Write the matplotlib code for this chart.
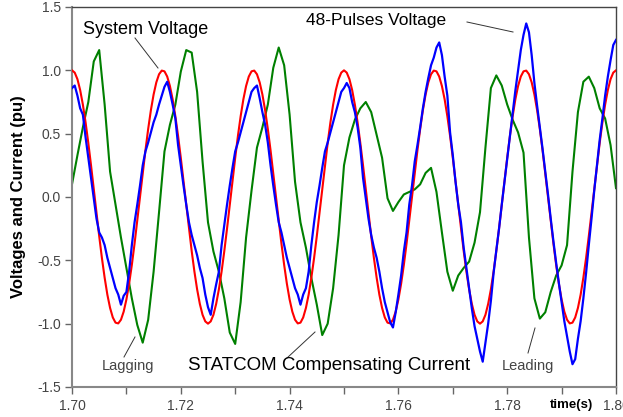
import numpy as np
import matplotlib
matplotlib.use("Agg")
import matplotlib.pyplot as plt

# ---- data ----
t_half = np.round(np.arange(0, 201) * 0.0005 + 1.70, 4)   # 0.5 ms grid
t_ms = np.round(np.arange(0, 101) * 0.001 + 1.70, 3)       # 1 ms grid

system_voltage = [
    1.000, 0.982, 0.930, 0.844, 0.729, 0.588, 0.426, 0.249, 0.063, -0.125,
    -0.309, -0.482, -0.637, -0.771, -0.876, -0.951, -0.992, -0.998, -0.969, -0.905,
    -0.809, -0.685, -0.536, -0.368, -0.187, 0.000, 0.187, 0.368, 0.536, 0.685,
    0.809, 0.905, 0.969, 0.998, 0.992, 0.951, 0.876, 0.771, 0.637, 0.482,
    0.309, 0.125, -0.063, -0.249, -0.426, -0.588, -0.729, -0.844, -0.930, -0.982,
    -1.000, -0.982, -0.930, -0.844, -0.729, -0.588, -0.426, -0.249, -0.063, 0.125,
    0.309, 0.482, 0.637, 0.771, 0.876, 0.951, 0.992, 0.998, 0.969, 0.905,
    0.809, 0.685, 0.536, 0.368, 0.187, 0.000, -0.187, -0.368, -0.536, -0.685,
    -0.809, -0.905, -0.969, -0.998, -0.992, -0.951, -0.876, -0.771, -0.637, -0.482,
    -0.309, -0.125, 0.063, 0.249, 0.426, 0.588, 0.729, 0.844, 0.930, 0.982,
    1.000, 0.982, 0.930, 0.844, 0.729, 0.588, 0.426, 0.249, 0.063, -0.125,
    -0.309, -0.482, -0.637, -0.771, -0.876, -0.951, -0.992, -0.998, -0.969, -0.905,
    -0.809, -0.685, -0.536, -0.368, -0.187, 0.000, 0.187, 0.368, 0.536, 0.685,
    0.809, 0.905, 0.969, 0.998, 0.992, 0.951, 0.876, 0.771, 0.637, 0.482,
    0.309, 0.125, -0.063, -0.249, -0.426, -0.588, -0.729, -0.844, -0.930, -0.982,
    -1.000, -0.982, -0.930, -0.844, -0.729, -0.588, -0.426, -0.249, -0.063, 0.125,
    0.309, 0.482, 0.637, 0.771, 0.876, 0.951, 0.992, 0.998, 0.969, 0.905,
    0.809, 0.685, 0.536, 0.368, 0.187, 0.000, -0.187, -0.368, -0.536, -0.685,
    -0.809, -0.905, -0.969, -0.998, -0.992, -0.951, -0.876, -0.771, -0.637, -0.482,
    -0.309, -0.125, 0.063, 0.249, 0.426, 0.588, 0.729, 0.844, 0.930, 0.982,
    1.000,
]

pulse48_voltage = [
    0.86, 0.88, 0.80, 0.70, 0.65, 0.47, 0.31, 0.15, -0.01, -0.17,
    -0.28, -0.32, -0.38, -0.48, -0.56, -0.64, -0.72, -0.77, -0.85, -0.78,
    -0.75, -0.59, -0.38, -0.20, -0.06, 0.09, 0.25, 0.36, 0.43, 0.51,
    0.59, 0.65, 0.73, 0.80, 0.87, 0.91, 0.83, 0.73, 0.62, 0.41,
    0.25, 0.09, -0.06, -0.20, -0.30, -0.38, -0.46, -0.56, -0.64, -0.77,
    -0.87, -0.93, -0.80, -0.69, -0.59, -0.38, -0.22, -0.06, 0.09, 0.23,
    0.36, 0.43, 0.51, 0.59, 0.67, 0.75, 0.83, 0.86, 0.88, 0.78,
    0.67, 0.57, 0.43, 0.25, 0.09, -0.06, -0.20, -0.28, -0.38, -0.48,
    -0.56, -0.64, -0.72, -0.77, -0.85, -0.77, -0.72, -0.59, -0.38, -0.20,
    -0.04, 0.09, 0.23, 0.36, 0.43, 0.51, 0.59, 0.67, 0.75, 0.83,
    0.86, 0.90, 0.86, 0.75, 0.67, 0.55, 0.39, 0.15, -0.01, -0.17,
    -0.30, -0.40, -0.48, -0.59, -0.72, -0.83, -0.91, -0.99, -1.03, -0.91,
    -0.77, -0.62, -0.43, -0.28, -0.06, 0.09, 0.28, 0.41, 0.55, 0.70,
    0.83, 0.94, 1.04, 1.10, 1.18, 1.22, 1.12, 0.95, 0.80, 0.51,
    0.33, 0.12, -0.06, -0.20, -0.40, -0.56, -0.72, -0.88, -1.02, -1.12,
    -1.22, -1.30, -1.15, -1.00, -0.82, -0.60, -0.42, -0.25, -0.06, 0.12,
    0.30, 0.48, 0.66, 0.84, 1.00, 1.16, 1.28, 1.37, 1.30, 1.12,
    0.90, 0.72, 0.55, 0.38, 0.20, 0.02, -0.17, -0.35, -0.52, -0.68,
    -0.83, -0.98, -1.10, -1.22, -1.32, -1.28, -1.12, -0.98, -0.80, -0.60,
    -0.38, -0.17, 0.05, 0.25, 0.45, 0.62, 0.80, 0.95, 1.08, 1.20,
    1.24,
]

statcom_current = [
    0.10, 0.33, 0.55, 0.75, 1.07, 1.16, 0.73, 0.20, -0.06, -0.32,
    -0.56, -0.80, -1.01, -1.15, -0.97, -0.59, -0.12, 0.36, 0.57, 0.73,
    0.99, 1.16, 1.14, 0.83, 0.28, -0.20, -0.43, -0.59, -0.80, -1.07,
    -1.16, -0.83, -0.32, 0.05, 0.39, 0.55, 0.73, 1.02, 1.18, 1.04,
    0.65, 0.12, -0.20, -0.40, -0.64, -0.85, -1.09, -1.00, -0.72, -0.30,
    0.25, 0.47, 0.61, 0.70, 0.75, 0.67, 0.49, 0.31, -0.01, -0.11,
    -0.04, 0.02, 0.04, 0.06, 0.10, 0.19, 0.23, 0.04, -0.28, -0.59,
    -0.74, -0.62, -0.56, -0.51, -0.36, -0.12, 0.39, 0.86, 0.96, 0.88,
    0.73, 0.61, 0.51, 0.35, -0.32, -0.80, -0.96, -0.91, -0.75, -0.62,
    -0.54, -0.38, 0.20, 0.67, 0.91, 0.95, 0.86, 0.70, 0.62, 0.41,
    0.07,
]

x_ticks = [1.70, 1.72, 1.74, 1.76, 1.78, 1.80]
x_minor = [1.71, 1.73, 1.75, 1.77, 1.79]
y_ticks = [-1.5, -1.0, -0.5, 0.0, 0.5, 1.0, 1.5]

# ---- figure ----
plt.rcParams['font.family'] = ['Liberation Sans', 'DejaVu Sans']
W, H = 623, 417
fig = plt.figure(figsize=(W / 100, H / 100), dpi=100)
ax = fig.add_axes([72 / W, 1 - 387 / H, (616 - 72) / W, (387 - 7) / H])

ax.plot(t_ms, statcom_current, color='#008000', lw=1.5, zorder=2)
ax.plot(t_half, system_voltage, color='#ff0000', lw=1.5, zorder=3)
ax.plot(t_half, pulse48_voltage, color='#0000ff', lw=1.6, zorder=4)

ax.set_xlim(1.70, 1.80)
ax.set_ylim(-1.5, 1.5)
ax.set_xticks(x_ticks)
ax.set_xticklabels([f"{v:.2f}" for v in x_ticks])
ax.set_xticks(x_minor, minor=True)
ax.set_yticks(y_ticks)
ax.set_yticklabels([f"{v:.1f}" for v in y_ticks])
ax.tick_params(axis='both', which='both', direction='out', length=5,
               width=1, color='#666666', labelcolor='#444444', labelsize=10)
ax.tick_params(axis='x', pad=4)
ax.tick_params(axis='y', pad=3)

for s in ['left', 'bottom']:
    ax.spines[s].set_color('#888888')
    ax.spines[s].set_linewidth(1.5)
for s in ['top', 'right']:
    ax.spines[s].set_color('#444444')
    ax.spines[s].set_linewidth(1.0)

ax.set_ylabel('Voltages and Current (pu)', fontsize=12, fontweight='bold',
              labelpad=8)
fig.text(572 / W, 1 - 405 / H, 'time(s)', fontsize=9.5, fontweight='bold',
         ha='center', va='center')


def px(x, y):
    """figure pixel -> figure fraction"""
    return (x / W, 1 - y / H)


def label(text, x, y, x0, y0, x1, y1, size, color='black'):
    fig.text(*px(x, y), text, fontsize=size, color=color,
             ha='center', va='center')
    fig.add_artist(plt.Line2D([x0 / W, x1 / W], [1 - y0 / H, 1 - y1 / H],
                              color='#333333', lw=0.7))


label('System Voltage', 146, 30, 135, 38, 158, 68, 13)
label('48-Pulses Voltage', 376, 21, 467, 22, 513, 32, 12.5)
label('Lagging', 128, 366, 124, 357, 135, 337, 10.5, '#444444')
label('STATCOM Compensating Current', 329, 366, 287, 358, 315, 332, 13.5)
label('Leading', 528, 366, 528, 353, 535, 328, 10.5, '#444444')

fig.savefig('out.png', dpi=100)
